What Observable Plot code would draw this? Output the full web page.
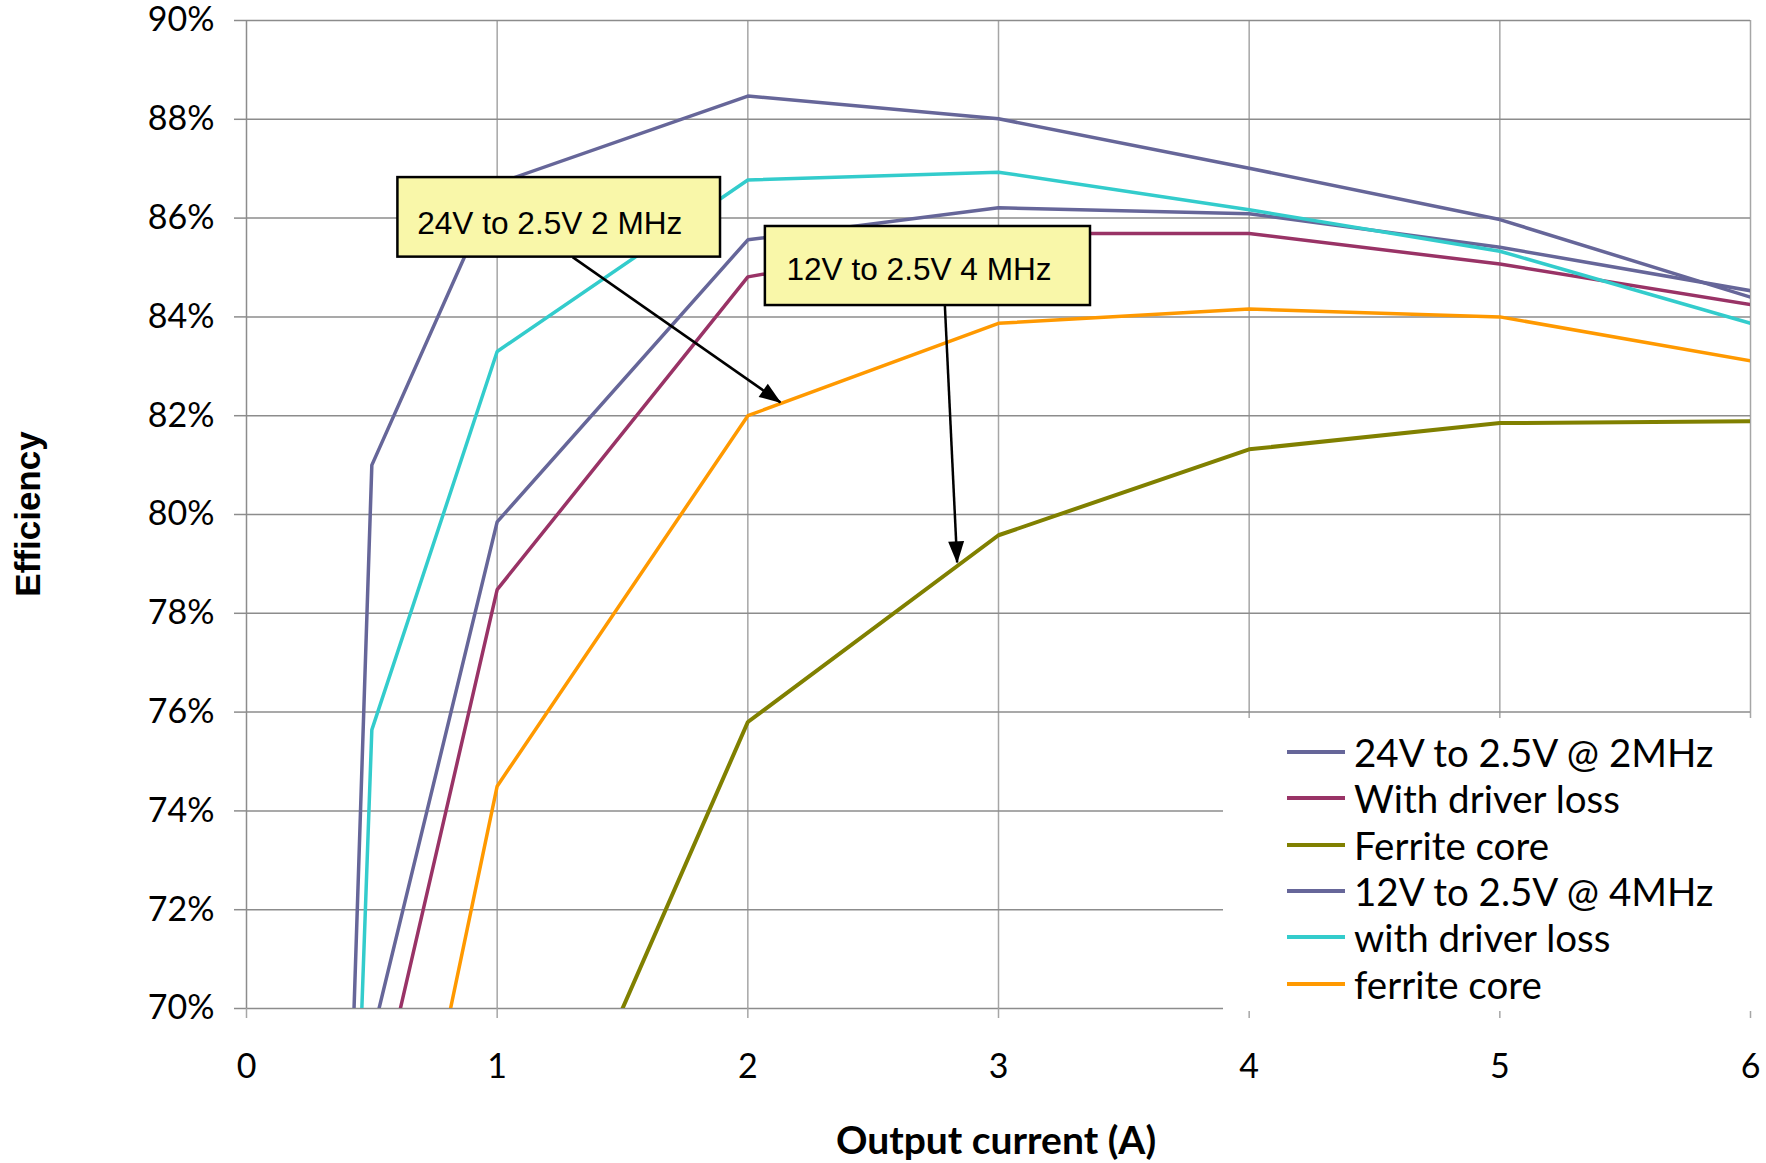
<!DOCTYPE html>
<html>
<head>
<meta charset="utf-8">
<script src="https://cdn.jsdelivr.net/npm/d3@7"></script>
<script src="https://cdn.jsdelivr.net/npm/@observablehq/plot@0.6"></script>
<style>
  html, body { margin: 0; padding: 0; background: #fff; }
  #chart { position: relative; width: 1766px; height: 1163px; }
  #chart svg { position: absolute; left: 0; top: 0; }
  .ytitle {
    position: absolute; left: 28px; top: 514px;
    transform: translate(-50%, -50%) rotate(-90deg);
    font-family: "Liberation Sans", Arial, sans-serif; font-weight: bold; font-size: 35px;
    white-space: nowrap; color: #000;
  }
  .xtitle {
    position: absolute; left: 996px; top: 1139px;
    transform: translate(-50%, -50%);
    font-family: Lato, sans-serif; font-weight: bold; font-size: 39px;
    white-space: nowrap; color: #000;
  }
  #legend {
    position: absolute; left: 1223px; top: 718px; width: 543px; height: 293px;
    background: #fff; font-family: Lato, sans-serif; font-size: 38.5px; color: #000;
  }
  .row { position: absolute; left: 0; width: 100%; height: 46px; }
  .swatch { position: absolute; left: 64px; top: 21px; width: 58px; height: 4px; }
  .label { position: absolute; left: 131px; top: 0; height: 46px; line-height: 46px; white-space: nowrap; }
</style>
</head>
<body>
<div id="chart"></div>
<script>
// Converter efficiency versus output current

const seriesNames = [
  "24V to 2.5V @ 2MHz",
  "With driver loss",
  "Ferrite core",
  "12V to 2.5V @ 4MHz",
  "with driver loss",
  "ferrite core"
];
const seriesColors = ["#666699", "#993366", "#808000", "#666699", "#33cccc", "#ff9900"];

// Output current (A) and efficiency for each series
const current24V = [0.4, 0.5, 1, 2, 3, 4, 5, 6];
const eff24V = [0.655, 0.810, 0.867, 0.8847, 0.8801, 0.8701, 0.8597, 0.8440];

const current24VDriver = [0.5, 1, 2, 3, 4, 5, 6];
const eff24VDriver = [0.675, 0.7848, 0.8481, 0.8569, 0.8569, 0.8507, 0.8425];

const current24VFerrite = [1, 2, 3, 4, 5, 6];
const eff24VFerrite = [0.642, 0.7580, 0.7958, 0.8132, 0.8185, 0.8189];

const current12V = [0.5, 1, 2, 3, 4, 5, 6];
const eff12V = [0.694, 0.7985, 0.8556, 0.8621, 0.8609, 0.8541, 0.8453];

const current12VDriver = [0.4, 0.5, 1, 2, 3, 4, 5, 6];
const eff12VDriver = [0.615, 0.7564, 0.8330, 0.8677, 0.8693, 0.8617, 0.8533, 0.8387];

const current12VFerrite = [0.5, 1, 2, 3, 4, 5, 6];
const eff12VFerrite = [0.624, 0.7450, 0.8200, 0.8387, 0.8416, 0.8400, 0.8311];

// Axis ticks
const xTicks = [0, 1, 2, 3, 4, 5, 6];
const yTicks = [0.70, 0.72, 0.74, 0.76, 0.78, 0.80, 0.82, 0.84, 0.86, 0.88, 0.90];

// Callout boxes and their arrows (in data units)
const calloutText = ["24V to 2.5V 2 MHz", "12V to 2.5V 4 MHz"];
const calloutX1 = [0.604, 2.070];
const calloutX2 = [1.891, 3.367];
const calloutTop = [0.8682, 0.8583];
const calloutBottom = [0.8521, 0.8423];
const calloutTextX = [0.681, 2.154];
const calloutTextY = [0.8589, 0.8495];
const arrowFromX = [1.301, 2.786];
const arrowFromY = [0.8521, 0.8423];
const arrowToX = [2.130, 2.835];
const arrowToY = [0.8227, 0.7903];

const seriesCurrents = [current24V, current24VDriver, current24VFerrite, current12V, current12VDriver, current12VFerrite];
const seriesEff = [eff24V, eff24VDriver, eff24VFerrite, eff12V, eff12VDriver, eff12VFerrite];

const rows = seriesNames.flatMap((name, i) =>
  seriesCurrents[i].map((c, j) => ({series: i, name, current: c, eff: seriesEff[i][j]}))
);
const callouts = calloutText.map((t, i) => ({
  text: t, x1: calloutX1[i], x2: calloutX2[i], top: calloutTop[i], bottom: calloutBottom[i],
  tx: calloutTextX[i], ty: calloutTextY[i],
  ax1: arrowFromX[i], ay1: arrowFromY[i], ax2: arrowToX[i], ay2: arrowToY[i]
}));

const lineMarks = seriesNames.map((name, i) =>
  Plot.line(rows.filter(d => d.series === i), {
    x: "current", y: "eff", stroke: seriesColors[i],
    strokeWidth: i === 2 ? 4 : 3.5, clip: true, strokeLinejoin: "miter"
  })
);

const chart = Plot.plot({
  width: 1766,
  height: 1163,
  marginLeft: 246,
  marginRight: 16,
  marginTop: 20,
  marginBottom: 155,
  style: {fontFamily: "Lato, sans-serif", background: "#fff", overflow: "visible"},
  x: {domain: [0, 6]},
  y: {domain: [0.70, 0.90]},
  marks: [
    Plot.ruleX(xTicks.filter(d => d > 0), {stroke: "#a6a6a6", strokeWidth: 1.5}),
    Plot.ruleY(yTicks, {stroke: "#8c8c8c", strokeWidth: 1.5}),
    Plot.ruleX([0], {stroke: "#8c8c8c", strokeWidth: 1.5}),
    Plot.axisY({
      ticks: yTicks, tickFormat: d3.format(".0%"), tickSize: 12, tickPadding: 20,
      stroke: "#8c8c8c", strokeWidth: 1.5, fill: "#000", fontSize: 34, label: null
    }),
    Plot.axisX({
      ticks: xTicks, tickFormat: d3.format("d"), tickSize: 10, tickPadding: 35,
      stroke: "#a6a6a6", strokeWidth: 1.5, fill: "#000", fontSize: 34, label: null
    }),
    ...lineMarks,
    Plot.link(callouts, {
      x1: "ax1", y1: "ay1", x2: "ax2", y2: "ay2",
      stroke: "#000", strokeWidth: 2.5, markerEnd: "arrow"
    }),
    Plot.rect(callouts, {
      x1: "x1", x2: "x2", y1: "bottom", y2: "top",
      fill: "#f9f7a9", stroke: "#000", strokeWidth: 2.5
    }),
    Plot.text(callouts, {
      x: "tx", y: "ty", text: "text", textAnchor: "start", lineAnchor: "middle",
      fontFamily: "Liberation Sans, Arial, sans-serif", fontSize: 31.6, fill: "#000"
    })
  ]
});

// Turn the arrow markers into filled triangular heads
const ns = "http://www.w3.org/2000/svg";
chart.querySelectorAll("marker").forEach(m => {
  m.setAttribute("markerUnits", "userSpaceOnUse");
  m.setAttribute("viewBox", "-22 -9 24 18");
  m.setAttribute("markerWidth", "24");
  m.setAttribute("markerHeight", "18");
  m.setAttribute("refX", "0");
  m.setAttribute("refY", "0");
  m.setAttribute("orient", "auto");
  m.setAttribute("fill", "#000");
  m.setAttribute("stroke", "none");
  while (m.firstChild) m.removeChild(m.firstChild);
  const head = document.createElementNS(ns, "path");
  head.setAttribute("d", "M1,0L-21,-8L-21,8Z");
  head.setAttribute("fill", "#000");
  head.setAttribute("stroke", "none");
  m.appendChild(head);
});

const holder = document.getElementById("chart");
holder.appendChild(chart);

// Axis titles
const yt = document.createElement("div");
yt.className = "ytitle";
yt.textContent = "Efficiency";
holder.appendChild(yt);
const xt = document.createElement("div");
xt.className = "xtitle";
xt.textContent = "Output current (A)";
holder.appendChild(xt);

// Legend box laid over the lower right of the plot
const legend = document.createElement("div");
legend.id = "legend";
seriesNames.forEach((name, i) => {
  const row = document.createElement("div");
  row.className = "row";
  row.style.top = (11 + i * 46.3) + "px";
  const sw = document.createElement("div");
  sw.className = "swatch";
  sw.style.background = seriesColors[i];
  const lb = document.createElement("div");
  lb.className = "label";
  lb.textContent = name;
  row.appendChild(sw);
  row.appendChild(lb);
  legend.appendChild(row);
});
holder.appendChild(legend);
</script>
</body>
</html>
